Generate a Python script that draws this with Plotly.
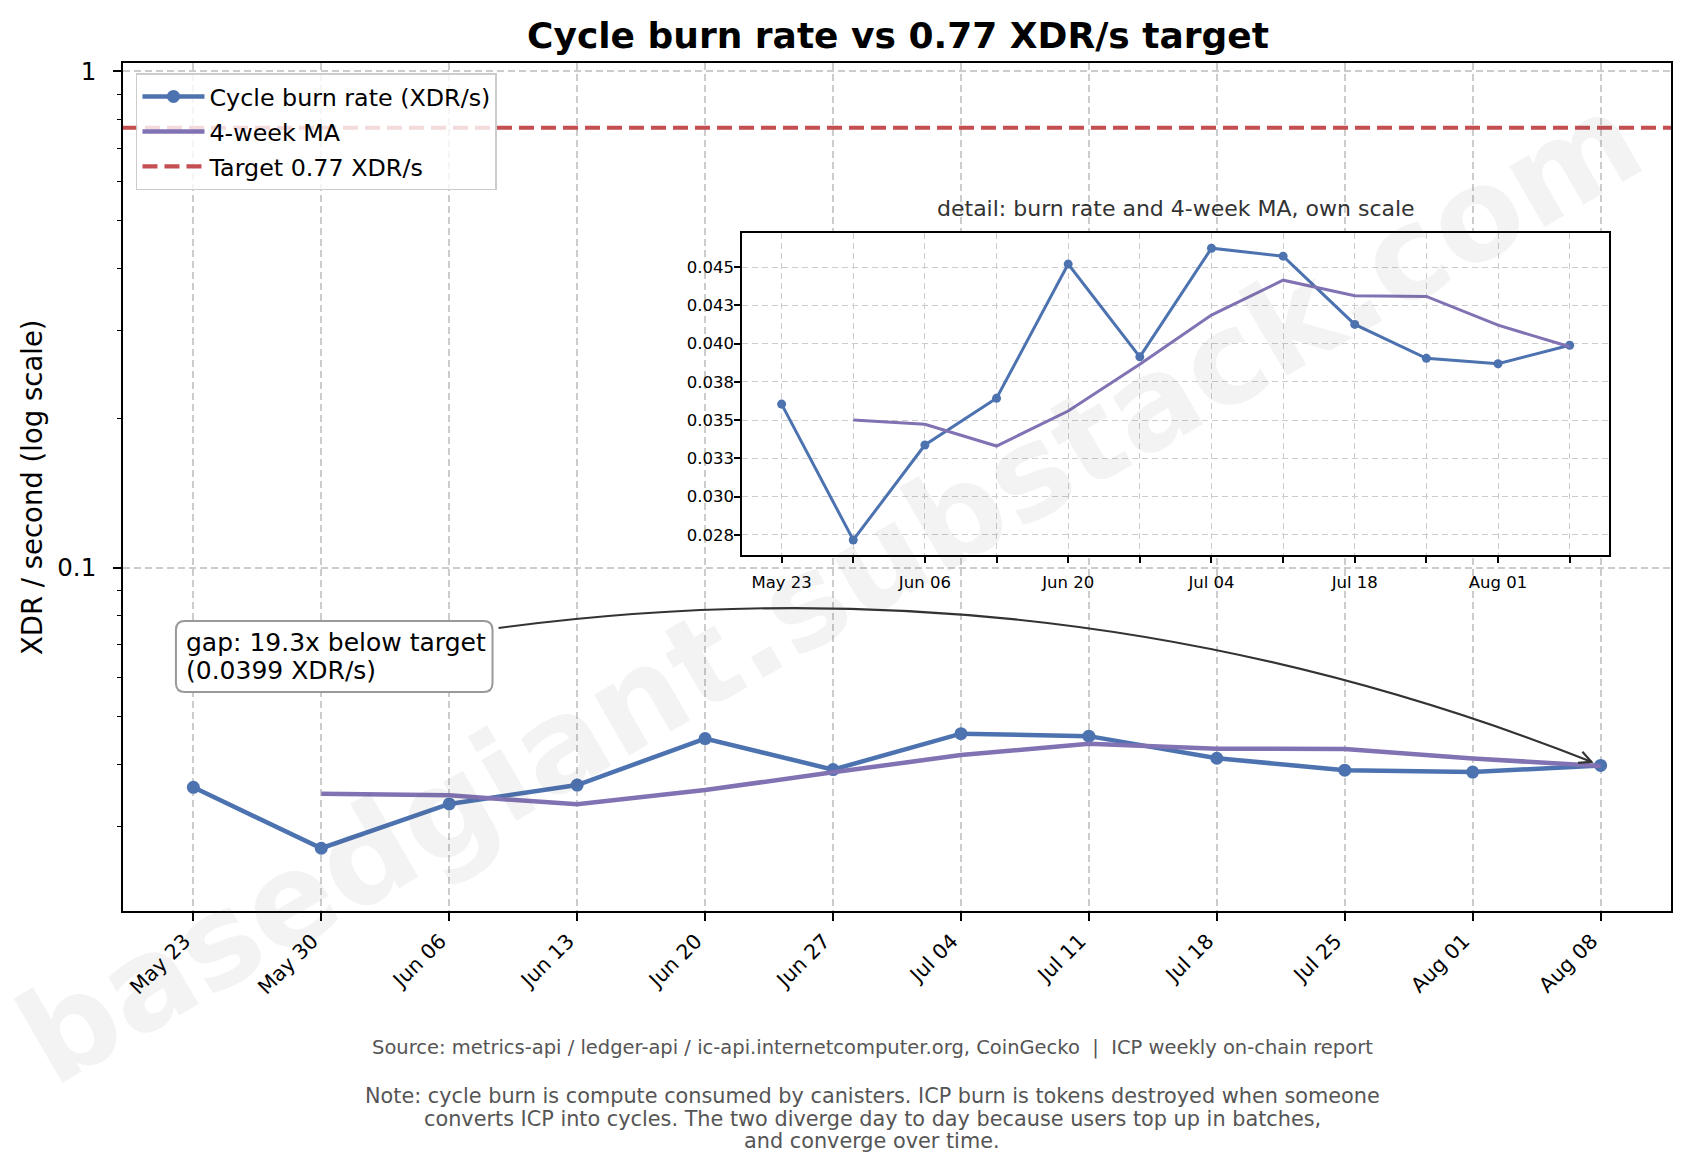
import numpy as np
import pandas as pd
import plotly.graph_objects as go

# ---------------- data ----------------
week_dates = ["2025-05-23", "2025-05-30", "2025-06-06", "2025-06-13", "2025-06-20", "2025-06-27",
              "2025-07-04", "2025-07-11", "2025-07-18", "2025-07-25", "2025-08-01", "2025-08-08"]
week_labels = ["May 23", "May 30", "Jun 06", "Jun 13", "Jun 20", "Jun 27",
               "Jul 04", "Jul 11", "Jul 18", "Jul 25", "Aug 01", "Aug 08"]
burn_rate = [0.03605, 0.02717, 0.03338, 0.03643, 0.04520, 0.03914,
             0.04624, 0.04572, 0.04126, 0.03904, 0.03869, 0.03990]
ma_4w = [None, 0.03501, 0.03473, 0.03331, 0.03560, 0.03865,
         0.04187, 0.04415, 0.04313, 0.04309, 0.04121, 0.03980]
target_rate = 0.77

inset_y_ticks = [0.0275, 0.0300, 0.0325, 0.0350, 0.0375, 0.0400, 0.0425, 0.0450]
inset_y_ticktext = ["0.028", "0.030", "0.033", "0.035", "0.038", "0.040", "0.043", "0.045"]
inset_x_ticktext = ["May 23", "", "Jun 06", "", "Jun 20", "", "Jul 04", "", "Jul 18", "", "Aug 01", ""]

main_y_range_log = [-1.6924, 0.017]
inset_y_range = [0.02620, 0.04726]

title_text = "Cycle burn rate vs 0.77 XDR/s target"
inset_title = "detail: burn rate and 4-week MA, own scale"
source_text = ("Source: metrics-api / ledger-api / ic-api.internetcomputer.org, CoinGecko  |  "
               "ICP weekly on-chain report")
note_lines = ["Note: cycle burn is compute consumed by canisters. ICP burn is tokens destroyed when someone",
              "converts ICP into cycles. The two diverge day to day because users top up in batches,",
              "and converge over time."]

# ---------------- styling ----------------
BLUE = "#4C72B0"
PURPLE = "#8172B3"
RED = "#C44E52"
GRID = "#cccccc"
FONT = "DejaVu Sans"

OFF = 8                      # page body margin
W, H = 1676, 1157
L, R, T, B = 115, 11, 55, 254
PW, PH = W - L - R, H - T - B

dates = pd.to_datetime(week_dates)
span = dates[-1] - dates[0]
pad = span * 0.05
x_range = [dates[0] - pad, dates[-1] + pad]


def px2paper(x, y):
    """absolute screen px -> paper fraction"""
    return ((x - OFF) - L) / PW, (H - B - (y - OFF)) / PH


def data2px(d, v):
    fx = (pd.Timestamp(d) - x_range[0]) / (x_range[1] - x_range[0])
    fy = (np.log10(v) - main_y_range_log[0]) / (main_y_range_log[1] - main_y_range_log[0])
    return OFF + L + fx * PW, OFF + H - B - fy * PH


def frac2data(fx, fy):
    d = x_range[0] + (x_range[1] - x_range[0]) * fx
    v = 10 ** (main_y_range_log[0] + (main_y_range_log[1] - main_y_range_log[0]) * fy)
    return d, v


inset_dom_x = [0.40, 0.96]
inset_dom_y = [0.42, 0.80]

fig = go.Figure()

# opaque background for the inset, drawn in the main subplot under everything
(dA, vA), (dB, vB) = frac2data(inset_dom_x[0], inset_dom_y[0]), frac2data(inset_dom_x[1], inset_dom_y[1])
fig.add_trace(go.Scatter(
    x=[dA, dB, dB, dA, dA], y=[vA, vA, vB, vB, vA], mode="lines", fill="toself",
    fillcolor="white", line=dict(width=0, color="white"), hoverinfo="skip", showlegend=False,
    xaxis="x", yaxis="y"))

# main traces
fig.add_trace(go.Scatter(
    x=dates, y=burn_rate, mode="lines+markers", name="Cycle burn rate (XDR/s)",
    line=dict(color=BLUE, width=4.5), marker=dict(color=BLUE, size=13),
    legendgroup="a", xaxis="x", yaxis="y"))
fig.add_trace(go.Scatter(
    x=dates, y=ma_4w, mode="lines", name="4-week MA",
    line=dict(color=PURPLE, width=4.5), legendgroup="b", xaxis="x", yaxis="y"))
fig.add_trace(go.Scatter(
    x=[None], y=[None], mode="lines", name="Target 0.77 XDR/s",
    line=dict(color=RED, width=4.2, dash="15px,7px"), legendgroup="c", xaxis="x", yaxis="y"))

# inset traces
fig.add_trace(go.Scatter(
    x=dates, y=burn_rate, mode="lines+markers", showlegend=False,
    line=dict(color=BLUE, width=3), marker=dict(color=BLUE, size=9),
    xaxis="x2", yaxis="y2"))
fig.add_trace(go.Scatter(
    x=dates, y=ma_4w, mode="lines", showlegend=False,
    line=dict(color=PURPLE, width=3), xaxis="x2", yaxis="y2"))

shapes = []
# target line
shapes.append(dict(type="line", xref="x domain", yref="y", x0=0, x1=1, y0=target_rate, y1=target_rate,
                   line=dict(color=RED, width=4.2, dash="15px,7px"), layer="above"))


def pp(x, y):
    a, b = px2paper(x, y)
    return f"{a:.5f},{b:.5f}"


# annotation box (rounded)
bx0, by0, bx1, by1, rr = 176, 621, 493, 692, 9
box_path = (f"M {pp(bx0 + rr, by0)} L {pp(bx1 - rr, by0)} Q {pp(bx1, by0)} {pp(bx1, by0 + rr)} "
            f"L {pp(bx1, by1 - rr)} Q {pp(bx1, by1)} {pp(bx1 - rr, by1)} "
            f"L {pp(bx0 + rr, by1)} Q {pp(bx0, by1)} {pp(bx0, by1 - rr)} "
            f"L {pp(bx0, by0 + rr)} Q {pp(bx0, by0)} {pp(bx0 + rr, by0)} Z")
shapes.append(dict(type="path", xref="paper", yref="paper", path=box_path,
                   fillcolor="white", line=dict(color="#999999", width=2), layer="above"))

# curved arrow from box to last point
last_v = burn_rate[-1]
Px, Py = data2px(dates[-1], last_v)
Sx, Sy = 499.0, 628.0
rad = -0.13
Mx, My = (Sx + Px) / 2, (Sy + Py) / 2
Cx, Cy = Mx - rad * (Py - Sy), My + rad * (Px - Sx)
tx, ty = Px - Cx, Py - Cy
n = np.hypot(tx, ty)
tx, ty = tx / n, ty / n
Ex, Ey = Px - 10 * tx, Py - 10 * ty
Mx, My = (Sx + Ex) / 2, (Sy + Ey) / 2
Cx, Cy = Mx - rad * (Ey - Sy), My + rad * (Ex - Sx)
tx, ty = Ex - Cx, Ey - Cy
n = np.hypot(tx, ty)
tx, ty = tx / n, ty / n
nx_, ny_ = -ty, tx

shapes.append(dict(type="path", xref="paper", yref="paper",
                   path=f"M {pp(Sx, Sy)} Q {pp(Cx, Cy)} {pp(Ex, Ey)}",
                   line=dict(color="#333333", width=2.2), layer="above"))
hl, hw = 12, 6
shapes.append(dict(type="path", xref="paper", yref="paper",
                   path=(f"M {pp(Ex - hl * tx + hw * nx_, Ey - hl * ty + hw * ny_)} L {pp(Ex, Ey)} "
                         f"L {pp(Ex - hl * tx - hw * nx_, Ey - hl * ty - hw * ny_)}"),
                   line=dict(color="#333333", width=2.2), layer="above"))

annotations = []


def ann(text, xa, ya, size, color="black", xanchor="center", **kw):
    x, y = px2paper(xa, ya)
    annotations.append(dict(text=text, x=x, y=y, xref="paper", yref="paper", showarrow=False,
                            xanchor=xanchor, yanchor="middle",
                            font=dict(family=FONT, size=size, color=color, **kw.pop("fontkw", {})), **kw))


gap = target_rate / last_v
ann(f"gap: {gap:.1f}x below target", 184, 642, 25, xanchor="left")
ann(f"({last_v:.4f} XDR/s)", 184, 670, 25, xanchor="left")

# y-axis label
ann("XDR / second (log scale)", 32, 487, 27.5, textangle=-90)
# inset title
ann(inset_title, 1177, 208, 22, color="#333333")
# footer
ann(source_text, 873, 1047, 19.5, color="#555555")
for i, line in enumerate(note_lines):
    ann(line, 873, 1096 + 22.5 * i, 20.8, color="#555555")
# watermark
ann("basedgiant.substack.com", 830, 588, 128, color="rgba(90,90,90,0.07)", textangle=-30,
    fontkw=dict(weight="bold"))

axis_common = dict(showline=True, mirror=True, linecolor="black", linewidth=1.7,
                   ticks="outside", tickcolor="black", zeroline=False)

lx, ly = px2paper(136, 73)

fig.update_layout(
    width=W, height=H,
    margin=dict(l=L, r=R, t=T, b=B),
    paper_bgcolor="white", plot_bgcolor="white",
    font=dict(family=FONT, color="black"),
    title=dict(text=f"<b>{title_text}</b>", x=(L + PW / 2) / W, xanchor="center",
               y=1 - (35.6 - OFF) / H, yanchor="middle", font=dict(family=FONT, size=36, color="black")),
    showlegend=True,
    legend=dict(x=lx, y=ly, xanchor="left", yanchor="top",
                bgcolor="rgba(255,255,255,0.8)", bordercolor="#cccccc", borderwidth=1.5,
                font=dict(family=FONT, size=23.8, color="black"), itemwidth=62,
                traceorder="grouped", tracegroupgap=1),
    xaxis=dict(type="date", range=x_range, tickvals=dates, ticktext=week_labels, tickangle=-45,
               tickfont=dict(size=20.5), ticklen=8, tickwidth=1.7, ticklabelshift=-9,
               showgrid=True, gridcolor=GRID, gridwidth=1.6, griddash="7px,4px",
               anchor="y", domain=[0, 1], **axis_common),
    yaxis=dict(type="log", range=main_y_range_log, dtick=1, tickfont=dict(size=24.5),
               ticklen=8, tickwidth=1.7, ticklabelstandoff=12,
               showgrid=True, gridcolor=GRID, gridwidth=1.6, griddash="7px,4px",
               minor=dict(ticks="outside", ticklen=4.5, tickwidth=1.3, tickcolor="black",
                          dtick="D1", showgrid=False),
               anchor="x", domain=[0, 1], **axis_common),
    xaxis2=dict(type="date", range=x_range, tickvals=dates, ticktext=inset_x_ticktext, tickangle=0,
                tickfont=dict(size=16.5), ticklen=6, tickwidth=1.5, ticklabelstandoff=6,
                showgrid=True, gridcolor=GRID, gridwidth=1.4, griddash="6px,4px",
                anchor="y2", domain=inset_dom_x, **axis_common),
    yaxis2=dict(type="linear", range=inset_y_range, tickvals=inset_y_ticks, ticktext=inset_y_ticktext,
                tickfont=dict(size=16.5), ticklen=6, tickwidth=1.5, ticklabelstandoff=-3,
                showgrid=True, gridcolor=GRID, gridwidth=1.4, griddash="6px,4px",
                anchor="x2", domain=inset_dom_y, **axis_common),
    shapes=shapes,
    annotations=annotations,
)

fig.write_html("out.html")
